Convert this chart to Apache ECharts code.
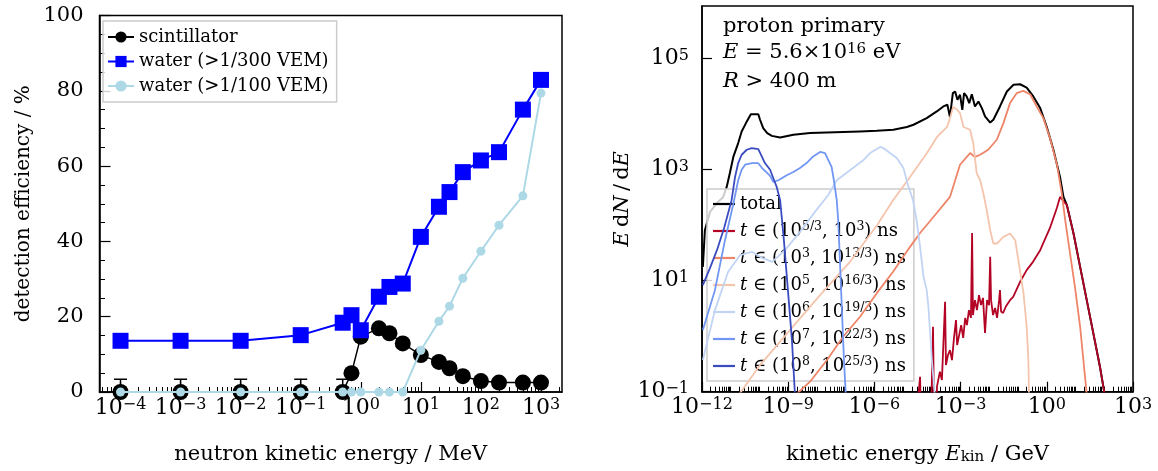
<!DOCTYPE html>
<html><head><meta charset="utf-8">
<script src="https://cdn.jsdelivr.net/npm/echarts@6/dist/echarts.min.js"></script>
<style>html,body{margin:0;padding:0;background:#fff}#c{width:1158px;height:471px}</style>
</head><body><div id="c"></div>
<script>
// ---------------- Left panel data ----------------
const energyMeV   = [1e-4, 1e-3, 1e-2, 1e-1, 0.5, 0.7, 1, 2, 3, 5, 10, 20, 30, 50, 100, 200, 500, 1000];
const effScint    = [0, 0, 0, 0, 0, 5.0, 14.7, 16.9, 15.6, 12.9, 9.8, 8.0, 6.3, 4.2, 2.9, 2.5, 2.5, 2.5];
const effScintErrUp = [3.4, 3.4, 3.4, 3.4, 3.4, 1.0, 1.0, 1.0, 1.0, 1.0, 1.0, 1.0, 1.0, 1.0, 1.0, 1.0, 1.0, 1.0];
const effWater300 = [13.6, 13.6, 13.6, 15.1, 18.4, 20.4, 16.4, 25.3, 27.9, 28.8, 41.2, 49.2, 53.1, 58.4, 61.5, 63.7, 75.0, 82.9];
const effWater100 = [0, 0, 0, 0, 0, 0, 0, 0, 0, 0, 11.1, 18.8, 22.8, 30.2, 37.4, 44.3, 52.1, 79.4];
const leftNames   = ['scintillator', 'water (>1/300 VEM)', 'water (>1/100 VEM)'];
const leftXDecades = [-4, -3, -2, -1, 0, 1, 2, 3];

// ---------------- Right panel data (log10 of E_kin/GeV and of E dN/dE) ----------------
const total_log10E = [-11.97,-11.90,-11.72,-11.44,-11.26,-11.14,-11.03,-10.91,-10.74,-10.62,-10.47,-10.30,-10.04,-9.98,-9.87,-9.73,-9.57,-9.28,-8.82,-8.24,-7.66,-7.08,-6.50,-5.92,-5.34,-4.87,-4.64,-4.18,-3.83,-3.60,-3.46,-3.37,-3.27,-3.19,-3.11,-3.02,-2.94,-2.88,-2.79,-2.70,-2.61,-2.50,-2.38,-2.26,-2.15,-1.97,-1.86,-1.63,-1.39,-1.16,-0.93,-0.70,-0.47,-0.23,0.00,0.23,0.46,0.58,0.70,0.93,1.16,1.39,1.62,1.85,2.03];
const total_log10N = [1.25,1.91,2.24,2.42,2.51,2.69,2.94,3.23,3.48,3.69,3.84,4.00,4.00,3.90,3.75,3.66,3.61,3.58,3.63,3.66,3.67,3.68,3.69,3.70,3.72,3.77,3.81,3.93,4.05,4.14,4.17,3.95,4.38,4.41,4.26,4.35,4.08,4.38,4.32,4.20,4.36,4.14,4.23,4.11,3.96,3.85,3.90,4.14,4.41,4.53,4.54,4.48,4.32,4.11,3.77,3.36,2.87,2.51,2.36,1.85,1.25,0.65,0.05,-0.55,-1.1];

const red_log10E = [-4.55,-4.41,-4.38,-4.03,-3.96,-3.92,-3.85,-3.82,-3.72,-3.65,-3.54,-3.51,-3.44,-3.37,-3.30,-3.23,-3.16,-3.12,-3.05,-2.98,-2.91,-2.84,-2.78,-2.71,-2.64,-2.60,-2.57,-2.50,-2.43,-2.36,-2.29,-2.22,-2.15,-2.08,-2.01,-1.97,-1.94,-1.87,-1.80,-1.73,-1.66,-1.63,-1.59,-1.52,-1.42,-1.28,-1.17,-0.93,-0.70,-0.48,-0.23,0.11,0.35,0.46,0.70,0.93,1.16,1.39,1.62,1.85,2.03];
const red_log10N = [-1.51,-0.73,-1.51,-1.51,0.17,-1.51,-1.51,-0.90,-0.64,-0.79,0.62,-0.52,-0.34,-0.25,-0.43,-0.03,0.29,-0.16,0.02,0.20,-0.03,0.33,0.20,0.47,0.33,1.86,0.38,0.65,0.47,0.74,0.56,0.69,0.06,0.65,0.56,1.43,0.65,0.38,0.51,0.33,0.65,0.83,0.44,0.42,0.54,0.65,0.71,0.98,1.19,1.34,1.55,1.95,2.31,2.51,2.36,1.85,1.25,0.65,0.05,-0.55,-1.1];

const salmon_log10E = [-8.83,-8.24,-7.65,-7.09,-6.50,-5.91,-5.35,-4.76,-4.41,-3.83,-3.37,-3.02,-2.67,-2.50,-2.32,-2.04,-1.74,-1.51,-1.28,-1.05,-0.82,-0.58,-0.35,-0.12,0.11,0.35,0.52,0.64,0.81,0.98,1.16,1.33,1.40];
const salmon_log10N = [-1.1,-0.82,-0.43,-0.01,0.35,0.78,1.16,1.61,1.86,2.22,2.51,3.09,3.30,3.23,3.27,3.36,3.54,3.84,4.20,4.38,4.42,4.36,4.14,3.93,3.57,3.10,2.58,2.09,1.49,0.89,0.17,-0.73,-1.1];

const peach_log10E = [-10.78,-9.98,-8.94,-7.89,-6.85,-5.91,-5.35,-4.76,-4.17,-3.82,-3.47,-3.37,-3.26,-3.12,-3.02,-2.90,-2.67,-2.56,-2.44,-2.32,-2.21,-2.09,-1.97,-1.86,-1.74,-1.51,-1.28,-1.10,-0.99,-0.81,-0.70,-0.64,-0.62];
const peach_log10N = [-1.1,-0.52,0.11,0.74,1.34,2.00,2.45,2.87,3.30,3.59,3.77,3.93,4.13,4.08,4.02,3.77,3.72,3.48,2.94,2.81,2.58,2.27,1.91,1.67,1.67,1.79,1.85,1.73,1.37,0.77,0.17,-0.43,-1.1];

const lightblue_log10E = [-11.97,-11.55,-11.09,-10.68,-10.26,-9.91,-9.56,-9.11,-8.59,-8.07,-7.61,-7.31,-6.85,-6.39,-6.15,-5.80,-5.69,-5.46,-5.22,-4.99,-4.83,-4.66,-4.53,-4.41,-4.29,-4.18,-4.12,-4.06,-4.00,-3.92,-3.89];
const lightblue_log10N = [-0.43,0.47,1.16,1.46,1.52,1.41,1.34,1.55,1.88,2.24,2.54,2.81,2.99,3.17,3.30,3.41,3.39,3.30,3.21,3.03,2.72,2.46,2.09,1.61,1.07,0.83,0.53,0.05,-0.43,-0.91,-1.1];

const midblue_log10E = [-11.97,-11.55,-11.20,-10.92,-10.74,-10.62,-10.50,-10.26,-10.05,-9.91,-9.77,-9.63,-9.52,-9.34,-9.05,-8.82,-8.59,-8.36,-8.13,-7.89,-7.72,-7.60,-7.49,-7.41,-7.31,-7.26,-7.20,-7.13,-7.06,-6.99];
const midblue_log10N = [0.11,0.83,1.73,2.36,2.81,3.00,3.09,3.12,3.12,3.03,2.96,2.89,2.78,2.81,2.90,2.96,3.03,3.12,3.24,3.32,3.30,3.17,3.05,2.81,2.45,2.09,1.37,0.47,-0.43,-1.1];

const darkblue_log10E = [-11.97,-11.72,-11.48,-11.23,-10.97,-10.85,-10.74,-10.62,-10.44,-10.27,-10.04,-9.92,-9.81,-9.63,-9.49,-9.40,-9.28,-9.15,-9.01,-8.87,-8.76];
const darkblue_log10N = [0.92,1.23,1.55,1.95,2.45,2.87,3.12,3.27,3.36,3.39,3.37,3.24,3.12,3.00,2.81,2.69,2.45,1.73,0.83,-0.07,-1.1];

const timeBinLo = ['5/3', '3', '5', '6', '7', '8'];
const timeBinHi = ['3', '13/3', '16/3', '19/3', '22/3', '25/3'];
const rightXMajor = [-12, -9, -6, -3, 0, 3];
const rightYMajor = [-1, 1, 3, 5];

// ---------------- styling ----------------
const FONT = 'DejaVu Serif';
const BLACK = '#000000';
const supRich = {
  b: {fontSize: 22, fontFamily: FONT, color: BLACK, lineHeight: 22, verticalAlign: 'bottom'},
  s: {fontSize: 16, fontFamily: FONT, color: BLACK, lineHeight: 16, padding: [0, 0, 16, 0], verticalAlign: 'top'}
};
function powLabel(v) {
  const n = Math.round(v);
  return '{b|10}{s|' + (n < 0 ? '\u2212' + (-n) : n) + '}';
}
function minorLogTicks(lo, hi, skip) {
  const out = [];
  for (let n = Math.floor(lo) - 1; n <= Math.ceil(hi); n++) {
    for (let k = 1; k <= 9; k++) {
      const v = n + Math.log10(k);
      if (k === 1 && skip.indexOf(n) >= 0) continue;
      if (v > lo && v < hi) out.push(v);
    }
  }
  return out;
}
const leftXMin = -4.35, leftXMax = 3.35;
const rightXMin = -12, rightXMax = 3, rightYMin = -1, rightYMax = 5.95;

const curveDefs = [
  {name: 'total', E: total_log10E, N: total_log10N, color: '#000000', width: 2},
  {name: 'bin0', E: red_log10E, N: red_log10N, color: '#b40426', width: 1.8},
  {name: 'bin1', E: salmon_log10E, N: salmon_log10N, color: '#ee8468', width: 1.8},
  {name: 'bin2', E: peach_log10E, N: peach_log10N, color: '#f4c4ac', width: 1.8},
  {name: 'bin3', E: lightblue_log10E, N: lightblue_log10N, color: '#c1d4f4', width: 1.8},
  {name: 'bin4', E: midblue_log10E, N: midblue_log10N, color: '#7196f3', width: 1.8},
  {name: 'bin5', E: darkblue_log10E, N: darkblue_log10N, color: '#3b4cc0', width: 1.8}
];
const legendRichMap = {'total': 'total'};
timeBinLo.forEach((lo, i) => {
  legendRichMap['bin' + i] = '{i|t} \u2208 (10{s|' + lo + '}, 10{s|' + timeBinHi[i] + '}) ns';
});

const leftSeries = [
  {name: leftNames[0], vals: effScint, symbol: 'circle', size: 16, color: '#000000', width: 1.5, z: 3},
  {name: leftNames[1], vals: effWater300, symbol: 'rect', size: 16, color: '#0000ff', width: 2, z: 4},
  {name: leftNames[2], vals: effWater100, symbol: 'circle', size: 9, color: '#add8e6', width: 2, z: 5}
].map(d => ({
  name: d.name, type: 'line', xAxisIndex: 0, yAxisIndex: 0, z: d.z,
  data: energyMeV.map((e, i) => [Math.log10(e), d.vals[i]]),
  symbol: d.symbol, symbolSize: d.size, showSymbol: true,
  itemStyle: {color: d.color, opacity: 1},
  lineStyle: {color: d.color, width: d.width},
  clip: true
}));

const scintErrorBars = {
  type: 'custom', xAxisIndex: 0, yAxisIndex: 0, z: 2, clip: true, silent: true,
  data: energyMeV.map((e, i) => [Math.log10(e), effScint[i], effScintErrUp[i]]),
  renderItem: function (params, api) {
    const x = api.value(0), y = api.value(1), up = api.value(2);
    const p0 = api.coord([x, y]);
    const p1 = api.coord([x, y + up]);
    const st = {stroke: '#000', lineWidth: 1.5};
    return {type: 'group', children: [
      {type: 'line', shape: {x1: p0[0], y1: p0[1], x2: p1[0], y2: p1[1]}, style: st},
      {type: 'line', shape: {x1: p1[0] - 6.5, y1: p1[1], x2: p1[0] + 6.5, y2: p1[1]}, style: st}
    ]};
  }
};

const rightSeries = curveDefs.map((d, k) => ({
  name: d.name, type: 'line', xAxisIndex: 2, yAxisIndex: 1, z: 2 + k,
  data: d.E.map((e, i) => [e, d.N[i]]),
  symbol: 'none', showSymbol: false,
  itemStyle: {color: d.color},
  lineStyle: {color: d.color, width: d.width},
  clip: true
}));

const tickLine = {color: BLACK, width: 1.2};
const nameStyle = {fontSize: 21, fontFamily: FONT, color: BLACK,
  rich: {i: {fontStyle: 'italic', fontSize: 21, fontFamily: FONT, color: BLACK},
         sub: {fontSize: 15, fontFamily: FONT, color: BLACK, lineHeight: 15, padding: [10, 0, 0, 0], verticalAlign: 'bottom'}}};

const option = {
  animation: false,
  backgroundColor: '#ffffff',
  textStyle: {fontFamily: FONT, color: BLACK},
  grid: [
    {left: 99.5, top: 15.5, width: 462.5, height: 376.5, show: true, borderColor: BLACK, borderWidth: 1.5, containLabel: false},
    {left: 702, top: 6, width: 431, height: 385.7, show: true, borderColor: BLACK, borderWidth: 1.5, containLabel: false}
  ],
  xAxis: [
    {type: 'value', gridIndex: 0, min: leftXMin, max: leftXMax, position: 'bottom',
     axisLine: {show: true, onZero: false, lineStyle: {color: BLACK, width: 1.5}},
     axisTick: {show: true, inside: true, length: 10, customValues: leftXDecades, lineStyle: tickLine},
     axisLabel: {show: true, customValues: leftXDecades, formatter: powLabel, rich: supRich, margin: 5},
     splitLine: {show: false},
     name: 'neutron kinetic energy / MeV', nameLocation: 'middle', nameGap: 52, nameTextStyle: nameStyle},
    {type: 'value', gridIndex: 0, min: leftXMin, max: leftXMax, position: 'bottom',
     axisLine: {show: false, onZero: false}, axisLabel: {show: false}, splitLine: {show: false},
     axisTick: {show: true, inside: true, length: 5, customValues: minorLogTicks(leftXMin, leftXMax, leftXDecades), lineStyle: {color: BLACK, width: 1}}},
    {type: 'value', gridIndex: 1, min: rightXMin, max: rightXMax, position: 'bottom',
     axisLine: {show: true, onZero: false, lineStyle: {color: BLACK, width: 1.5}},
     axisTick: {show: true, inside: true, length: 10, customValues: rightXMajor, lineStyle: tickLine},
     axisLabel: {show: true, customValues: rightXMajor, formatter: powLabel, rich: supRich, margin: 5},
     splitLine: {show: false},
     name: 'kinetic energy {i|E}{sub|kin} / GeV', nameLocation: 'middle', nameGap: 52, nameTextStyle: nameStyle},
    {type: 'value', gridIndex: 1, min: rightXMin, max: rightXMax, position: 'bottom',
     axisLine: {show: false, onZero: false}, axisLabel: {show: false}, splitLine: {show: false},
     axisTick: {show: true, inside: true, length: 5, customValues: minorLogTicks(rightXMin, rightXMax, rightXMajor), lineStyle: {color: BLACK, width: 1}}}
  ],
  yAxis: [
    {type: 'value', gridIndex: 0, min: 0, max: 100, interval: 20,
     axisLine: {show: true, onZero: false, lineStyle: {color: BLACK, width: 1.5}},
     axisTick: {show: true, inside: true, length: 11, lineStyle: tickLine},
     minorTick: {show: true, splitNumber: 4, length: 5.5, lineStyle: {color: BLACK, width: 1}},
     axisLabel: {fontSize: 21, fontFamily: FONT, color: BLACK, margin: 16},
     splitLine: {show: false}, minorSplitLine: {show: false},
     name: 'detection efficiency / %', nameLocation: 'middle', nameGap: 66,
     nameTextStyle: {fontSize: 20, fontFamily: FONT, color: BLACK}},
    {type: 'value', gridIndex: 1, min: rightYMin, max: rightYMax,
     axisLine: {show: true, onZero: false, lineStyle: {color: BLACK, width: 1.5}},
     axisTick: {show: true, inside: true, length: 10, customValues: rightYMajor, lineStyle: tickLine},
     axisLabel: {show: true, customValues: rightYMajor, formatter: powLabel, rich: supRich, margin: 13},
     splitLine: {show: false},
     name: '{i|E}\u2009d{i|N}\u2009/\u2009d{i|E}', nameLocation: 'middle', nameGap: 62, nameTextStyle: nameStyle}
  ],
  legend: [
    {data: leftNames, left: 103, top: 21, orient: 'vertical', itemWidth: 26, itemHeight: 14, itemGap: 2.5,
     padding: [5, 8, 5, 4], backgroundColor: 'rgba(255,255,255,0.8)', borderColor: '#cccccc', borderWidth: 1.5,
     textStyle: {fontSize: 18, fontFamily: FONT, color: BLACK, lineHeight: 22}},
    {data: curveDefs.map(d => d.name), left: 707, top: 189, orient: 'vertical', itemWidth: 22, itemHeight: 2.2, itemGap: 5,
     icon: 'rect',
     padding: [4, 8, 4, 6], backgroundColor: 'rgba(255,255,255,0.8)', borderColor: '#cccccc', borderWidth: 1.5,
     formatter: name => legendRichMap[name] || name,
     textStyle: {fontSize: 18, fontFamily: FONT, color: BLACK, lineHeight: 22,
       rich: {i: {fontStyle: 'italic', fontSize: 18, fontFamily: FONT, color: BLACK, lineHeight: 22},
              s: {fontSize: 12.5, fontFamily: FONT, color: BLACK, lineHeight: 13, padding: [0, 0, 9, 0], verticalAlign: 'top'}}}}
  ],
  graphic: [
    {type: 'text', left: 723, top: 16, z: 10, style: {text: 'proton primary', font: '21px "DejaVu Serif"', fill: BLACK}},
    {type: 'text', left: 723, top: 42, z: 10, style: {
      text: '{i|E} = 5.6\u00d710{s|16} eV', font: '21px "DejaVu Serif"', fill: BLACK,
      rich: {i: {fontStyle: 'italic', fontSize: 21, fontFamily: FONT, fill: BLACK},
             s: {fontSize: 15, fontFamily: FONT, fill: BLACK, lineHeight: 15, padding: [0, 0, 12, 0], verticalAlign: 'top'}}}},
    {type: 'text', left: 723, top: 71, z: 10, style: {
      text: '{i|R} > 400 m', font: '21px "DejaVu Serif"', fill: BLACK,
      rich: {i: {fontStyle: 'italic', fontSize: 21, fontFamily: FONT, fill: BLACK}}}}
  ],
  series: leftSeries.concat([scintErrorBars]).concat(rightSeries)
};

const chart = echarts.init(document.getElementById('c'), null, {renderer: 'canvas'});
chart.setOption(option);
</script>
</body></html>
